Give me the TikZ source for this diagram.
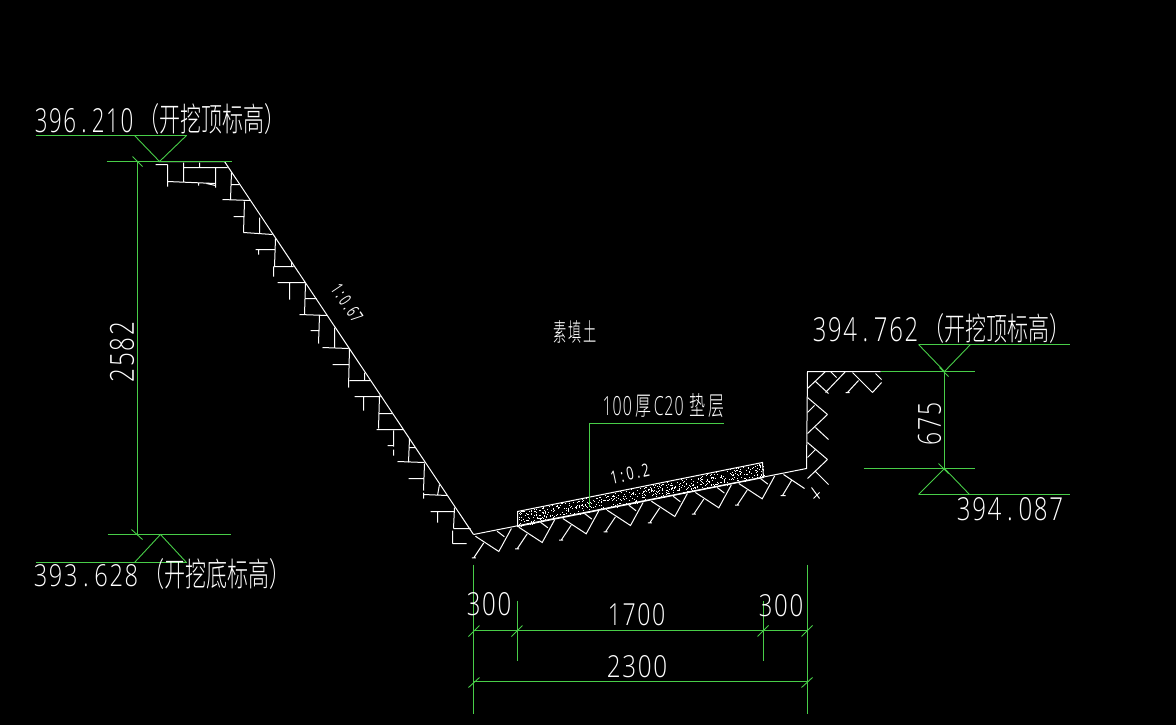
\documentclass[tikz,border=0pt]{standalone}
\usepackage{fontspec}
\setmainfont{Open Sans}[UprightFont=* Light]
\newfontfamily\regfont{Open Sans}
\newfontfamily\cjk{Noto Sans CJK SC}[UprightFont=* Light]
\definecolor{dimgreen}{RGB}{72,205,72}
\tikzset{
  hatch/.style={draw=white,line width=1pt},
  dimen/.style={draw=dimgreen,line width=1.4pt},
  thindim/.style={draw=dimgreen,line width=0.9pt},
  lab/.style={inner sep=0pt,outer sep=0pt,text=white}
}
\makeatletter
\newcommand\dg[1]{\@tfor\dg@c:=#1\do{\makebox[0.64em][c]{\dg@c}}}
\makeatother
\newcommand\lbl[7][0]{\node[lab,rotate=#1] (#2) at (#3,#4) {\resizebox{#5pt}{#6pt}{#7}};}
\begin{document}
\begin{tikzpicture}[x=1pt,y=-1pt]
\fill[black] (0,0) rectangle (1176,725);
\useasboundingbox (0,0) rectangle (1176,725);
\begin{scope}[shift={(0.5,0.5)}]
% ---- left slope and its hatching
\draw[hatch] (158,161) -- (224,161) -- (473,534);
\draw[hatch]
 (155,164)--(167,164) (167,164)--(167,186) (167,181)--(215,183)
 (183,162)--(183,182) (183,167)--(227,167) (199,162)--(199,167)
 (215,167)--(215,187) (206,183)--(215,185) (198,183)--(198,185)
 (231,172)--(230,199) (230,184)--(239,184) (222,199)--(250,200)
 (244,201)--(243,232) (233,216)--(244,216) (259,217)--(259,233)
 (243,232)--(272,234) (275,238)--(274,266) (255,249)--(275,249)
 (258,249)--(258,254) (273,266)--(293,266) (273,266)--(273,276)
 (291,261)--(291,266) (277,282)--(305,282) (289,282)--(289,299)
 (305,283)--(304,314) (305,298)--(316,298) (299,314)--(327,315)
 (319,315)--(318,343) (310,330)--(319,330) (334,327)--(334,347)
 (322,347)--(348,348) (349,348)--(348,387) (332,364)--(349,364)
 (349,380)--(370,380) (364,372)--(364,380) (354,396)--(380,396)
 (363,396)--(363,410) (379,395)--(378,428) (378,413)--(392,413)
 (376,429)--(403,429) (393,430)--(393,446) (387,445)--(393,445)
 (393,449)--(393,455) (409,438)--(408,462) (409,447)--(415,447)
 (397,461)--(424,462) (424,463)--(423,490) (423,492)--(423,498)
 (408,478)--(423,478) (423,494)--(447,495) (439,484)--(437,495)
 (430,511)--(454,511) (437,511)--(437,522) (454,507)--(453,528)
 (453,528)--(470,528) (452,530)--(452,543) (452,543)--(466,543);
% ---- base line, wall, hatch
\draw[hatch] (473,534) -- (806,468) -- (807,371) -- (880,371);
\foreach \vx/\vy in {498.3/551,541.7/542,585.7/533.3,630/525,674.3/516,718.3/507.3,761.7/498.3}{
  \draw[hatch] (\vx-23.4,\vy-15.3) -- (\vx,\vy) -- (\vx+12.6,\vy-23);
  \draw[hatch] (\vx-1.7,\vy-20.3) -- (\vx+5.6,\vy-14.7);
  \draw[hatch] (\vx-25,\vy+6.3) -- (\vx-15,\vy-8.7) (\vx-27,\vy+6.3) -- (\vx-23,\vy+6.3);
}
\draw[hatch]
 (783,474)--(804,488) (782,495)--(791,480) (780,495)--(785,495)
 (811,487)--(819,498) (813,498)--(819,492)
 (807,388)--(825,371) (815,381)--(828,393) (825,392)--(845,371)
 (830,371)--(836,377) (847,392)--(858,380) (845,392)--(849,392) (852,372)--(872,392)
 (872,392)--(881,382) (875,373)--(881,379)
 (807,397)--(827,414) (807,412)--(814,405) (807,433)--(827,414) (815,427)--(828,439)
 (807,442)--(827,459) (807,457)--(815,449) (807,478)--(827,459) (815,471)--(828,484);
% ---- concrete pad
\draw[hatch] (517,511) -- (517,526) -- (763,477) -- (762,462) -- cycle;
\pgfmathsetseed{42}
\foreach \i in {1,...,600}{
  \pgfmathsetmacro\uu{rnd}\pgfmathsetmacro\vv{rnd}
  \fill[white] ({517+246*\uu},{511-49*\uu+15*\vv}) rectangle +(1,1);
}
% ---- green dimensioning
\draw[dimen] (35,135)--(186,135) (106,161)--(231,161) (137,161)--(137,534) (107,534)--(230,534) (35,562)--(186,562);
\draw[thindim] (134,135)--(159,161)--(186,135) (134,562)--(160,534)--(186,562) (132,156)--(142,166) (131,529)--(142,539);
\draw[dimen] (918,344)--(1069,344) (880,371)--(974,371) (944,371)--(944,468) (863,468)--(974,468) (918,494)--(1069,494);
\draw[thindim] (918,344)--(944,371)--(970,344) (918,494)--(944,468)--(969,494) (939,367)--(948,376) (938,463)--(948,473);
\draw[dimen] (473,564)--(473,713) (807,564)--(807,713) (517,600)--(517,660) (763,600)--(763,660) (473,630)--(807,630) (473,681)--(807,681);
\draw[thindim] (468,636)--(479,625) (511,636)--(522,625) (757,636)--(768,625) (801,636)--(812,625) (468,687)--(479,677) (801,687)--(812,677);
\draw[dimen] (723,423)--(589,423)--(589,506);
\end{scope}
% ---- labels
\lbl{ta}{84}{120.5}{100}{24}{\dg{396.210}}
\lbl{tb}{212}{119}{147}{28}{\cjk （开挖顶标高）}
\lbl{tc}{865.5}{330}{107}{24}{\dg{394.762}}
\lbl{td}{997}{328.5}{147}{27}{\cjk （开挖顶标高）}
\lbl{te}{1010}{509.5}{108}{23}{\dg{394.087}}
\lbl{tf}{86}{576}{106}{22}{\dg{393.628}}
\lbl{tg}{217}{574}{147}{28}{\cjk （开挖底标高）}
\lbl[90]{th}{122}{352}{62}{24}{\dg{2582}}
\lbl[90]{ti}{929.5}{424}{44}{23}{\dg{675}}
\lbl{tj}{489}{604.5}{46}{23}{\dg{300}}
\lbl{tk}{636.5}{615}{59}{22}{\dg{1700}}
\lbl{tl}{781}{606}{46}{22}{\dg{300}}
\lbl{tm}{637}{667}{62}{22}{\dg{2300}}
\lbl{tn}{663}{406}{122}{22}{\dg{100}\,{\cjk 厚}\,\dg{C20}\,\,{\cjk 垫\,层}}
\lbl{to}{575}{331.5}{44}{21}{\cjk 素\,填\,土}
\lbl[-56]{tp}{347}{303}{42}{13}{\regfont\dg{1:0.67}}
\lbl[12]{tq}{630}{474}{40}{13}{\regfont\dg{1:0.2}}
\end{tikzpicture}
\end{document}
